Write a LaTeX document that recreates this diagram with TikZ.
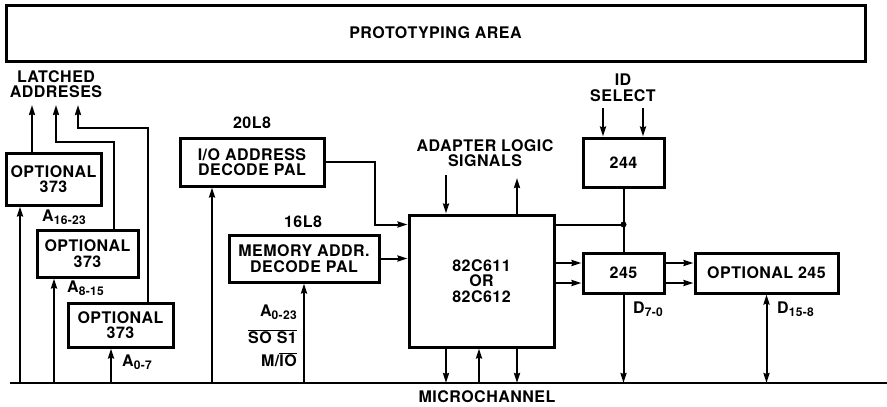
\documentclass[tikz,border=0pt]{standalone}
\usepackage{fontspec}
\setmainfont{TeX Gyre Heros}[LetterSpace=3]
\usetikzlibrary{arrows.meta,positioning,calc}
\newcommand{\ovl}[1]{$\overline{\hbox{#1}}$}
\newcommand{\sbs}[1]{\raisebox{-3pt}{\fontsize{12}{12}\selectfont #1}}

\begin{document}
\begin{tikzpicture}[x=1pt, y=-1pt,
    font=\fontsize{16}{15.5}\selectfont\bfseries,
    blk/.style={draw, line width=3pt, align=center, inner sep=0pt},
    lbl/.style={inner sep=0pt, align=center},
    wire/.style={line width=2pt},
    arr/.style={-{Stealth[length=10pt,width=6pt,inset=1pt]}, line width=2pt},
    dbl/.style={{Stealth[length=10pt,width=6pt,inset=1pt]}-{Stealth[length=10pt,width=6pt,inset=1pt]}, line width=2pt}
]
\useasboundingbox (0,0) rectangle (887,407);

\node[blk, minimum width=859pt, minimum height=56pt] (proto) at (435.5,33) {PROTOTYPING AREA};
\node[blk, minimum width=95pt, minimum height=52pt] (opt1) at (53.5,179) {OPTIONAL\\373};
\node[blk, minimum width=101pt, minimum height=47pt] (opt2) at (87.5,253.5) {OPTIONAL\\373};
\node[blk, minimum width=105pt, minimum height=44pt] (opt3) at (120.5,325) {OPTIONAL\\373};
\node[blk, minimum width=144pt, minimum height=48pt] (iopal) at (252,162) {I/O ADDRESS\\DECODE PAL};
\node[blk, minimum width=150pt, minimum height=47pt] (mempal) at (304,258.5) {MEMORY ADDR.\\DECODE PAL};
\node[blk, minimum width=145pt, minimum height=132pt] (chip) at (481.5,281) {82C611\\OR\\82C612};
\node[blk, minimum width=81pt, minimum height=49pt] (b244) at (623.5,162.5) {244};
\node[blk, minimum width=81pt, minimum height=40pt] (b245) at (623.5,273) {245};
\node[blk, minimum width=143pt, minimum height=40pt] (opt245) at (766.5,273) {OPTIONAL 245};

\node[lbl] (latched) at (56,84) {LATCHED\\ADDRESES};
\node[lbl] (pal20) at (252,123) {20L8};
\node[lbl] (pal16) at (303,222) {16L8};
\node[lbl] (adapter) at (485,153) {ADAPTER LOGIC\\SIGNALS};
\node[lbl] (idsel) at (623,88) {ID\\SELECT};
\node[lbl, anchor=west] (a16) at (42,217) {A\sbs{16-23}};
\node[lbl, anchor=west] (a8) at (67,288) {A\sbs{8-15}};
\node[lbl, anchor=west] (a0) at (122,362) {A\sbs{0-7}};
\node[lbl, anchor=east] (a023) at (297,312) {A\sbs{0-23}};
\node[lbl, anchor=east] (sos1) at (297,337) {\ovl{SO S1}};
\node[lbl, anchor=east] (mio) at (297,360) {M/\ovl{IO}};
\node[lbl, anchor=west] (d7) at (633,309) {D\sbs{7-0}};
\node[lbl, anchor=west] (d15) at (777,309) {D\sbs{15-8}};
\node[lbl] (mch) at (487,397) {MICROCHANNEL};

\coordinate (busL) at (10,383);
\coordinate (busR) at (887,383);
\draw[wire] (busL) -- (busR);
\foreach \n/\x in {a16/20, a8/54, a0/111, io/212, c1/446, c2/479, c3/517}
    \coordinate (t\n) at (\x,383);

\draw[arr] (ta16) -- (ta16 |- opt1.south);
\draw[arr] (ta8) -- (ta8 |- opt2.south);
\draw[arr] (ta0) -- (ta0 |- opt3.south);
\draw[arr] (tio) -- (tio |- iopal.south);
\draw[arr] (mempal.south |- busL) -- (mempal.south);
\draw[arr] (tc1 |- chip.south) -- (tc1);
\draw[arr] (tc2) -- (tc2 |- chip.south);
\draw[arr] (tc3 |- chip.south) -- (tc3);
\draw[arr] (b245.south) -- (b245.south |- busL);
\draw[dbl] (opt245.south) -- (opt245.south |- busL);

\coordinate (l1) at (32,105);
\coordinate (l2) at (56,105);
\coordinate (l3) at (78,105);
\draw[arr] (l1 |- opt1.north) -- (l1);
\draw[arr] ([xshift=-26pt]opt2.north east) -- ++(0,-87) -| (l2);
\draw[arr] ([xshift=-27pt]opt3.north east) -- ++(0,-174) -| (l3);

\coordinate (ioin) at ([yshift=-11pt]chip.north west);
\coordinate (jn) at (ioin -| b244.south);
\draw[arr] (iopal.east) -- ++(49,0) |- (ioin);
\draw[arr] (mempal.east) -- (mempal.east -| chip.west);
\draw[wire] (ioin -| chip.east) -- (jn);
\draw[wire] (b244) -- (b245);
\fill (jn) circle (3pt);

\coordinate (sin) at (446,175);
\coordinate (sout) at (517,178);
\draw[arr] (sin) -- (sin |- chip.north);
\draw[arr] (sout |- chip.north) -- (sout);

\coordinate (id1) at (603,108);
\coordinate (id2) at (643,108);
\draw[arr] (id1) -- (id1 |- b244.north);
\draw[arr] (id2) -- (id2 |- b244.north);

\coordinate (d1) at ([yshift=10pt]b245.west);
\coordinate (d2) at ([yshift=-10pt]b245.west);
\draw[arr] (d1 -| chip.east) -- (d1);
\draw[arr] (d2 -| chip.east) -- (d2);
\draw[arr] (d1 -| b245.east) -- (d1 -| opt245.west);
\draw[arr] (d2 -| b245.east) -- (d2 -| opt245.west);
\end{tikzpicture}
\end{document}
